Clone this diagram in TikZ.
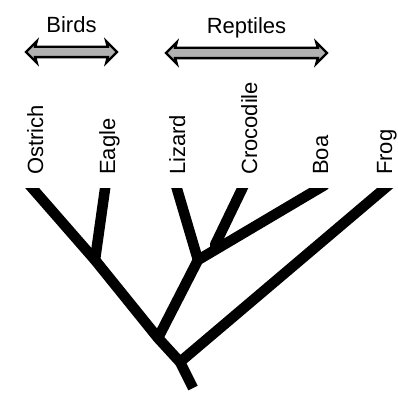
\documentclass[tikz,border=0pt]{standalone}
\usepackage{fontspec}
\setmainfont{Liberation Sans}
\usetikzlibrary{shapes.arrows, positioning}

\begin{document}
\begin{tikzpicture}[x=1pt, y=1pt,
    taxon/.style={rotate=90, anchor=base west, inner sep=0pt, font=\fontsize{22}{26}\selectfont},
    heading/.style={inner sep=0pt, font=\fontsize{22}{26}\selectfont},
    clade/.style={double arrow, draw=black, fill=gray!60, line width=2.4pt, inner sep=4pt,
                  double arrow head extend=5.5pt, double arrow head indent=1.5pt},
    trunk/.style={line width=10.5pt, line join=round, shorten >=-8pt},
    branch/.style={line width=10.5pt, line cap=round, shorten <=-8pt},
    stem/.style={line width=10.5pt, line cap=round}]
        \useasboundingbox (0,0) rectangle (398,398);

        \node[clade, minimum height=91pt] (c_1) at (71.5,346) {};
        \node[heading, above=13pt of c_1] (h_1) {Birds};

        \node[clade, minimum height=161pt] (c_2) at (246.5,345) {};
        \node[heading, above=8pt of c_2] (h_2) {Reptiles};

        \node[taxon] (l_1) at (43,223) {Ostrich};
        \node[taxon] (l_2) at (115,223) {Eagle};
        \node[taxon] (l_3) at (185,223) {Lizard};
        \node[taxon] (l_4) at (257,223) {Crocodile};
        \node[taxon] (l_5) at (328,223) {Boa};
        \node[taxon] (l_6) at (392,223) {Frog};

        \coordinate (t_1) at (33,209);
        \coordinate (t_2) at (105,209);
        \coordinate (t_3) at (177,209);
        \coordinate (t_4) at (242,209);
        \coordinate (t_5) at (318,209);
        \coordinate (t_6) at (384,209);

        \coordinate (root) at (193,10);
        \coordinate (j_frog) at (180,36);
        \coordinate (j_rept) at (158,60);
        \coordinate (j_bird) at (95,138);
        \coordinate (j_lzd) at (198,138);
        \coordinate (j_croc) at (215,153);

        \begin{scope}
            \clip (0,0) rectangle (398,209);
            \draw[trunk] (root) -- (j_frog) -- (j_rept) -- (j_bird) -- (t_1);
            \draw[branch] (t_2) -- (j_bird);
            \draw[branch] (t_3) -- (j_lzd);
            \draw[branch] (t_5) -- (j_lzd);
            \draw[branch] (t_4) -- (j_croc);
            \draw[branch] (t_6) -- (j_frog);
            \draw[stem] (j_lzd) -- (j_rept);
        \end{scope}

    \end{tikzpicture}
\end{document}
